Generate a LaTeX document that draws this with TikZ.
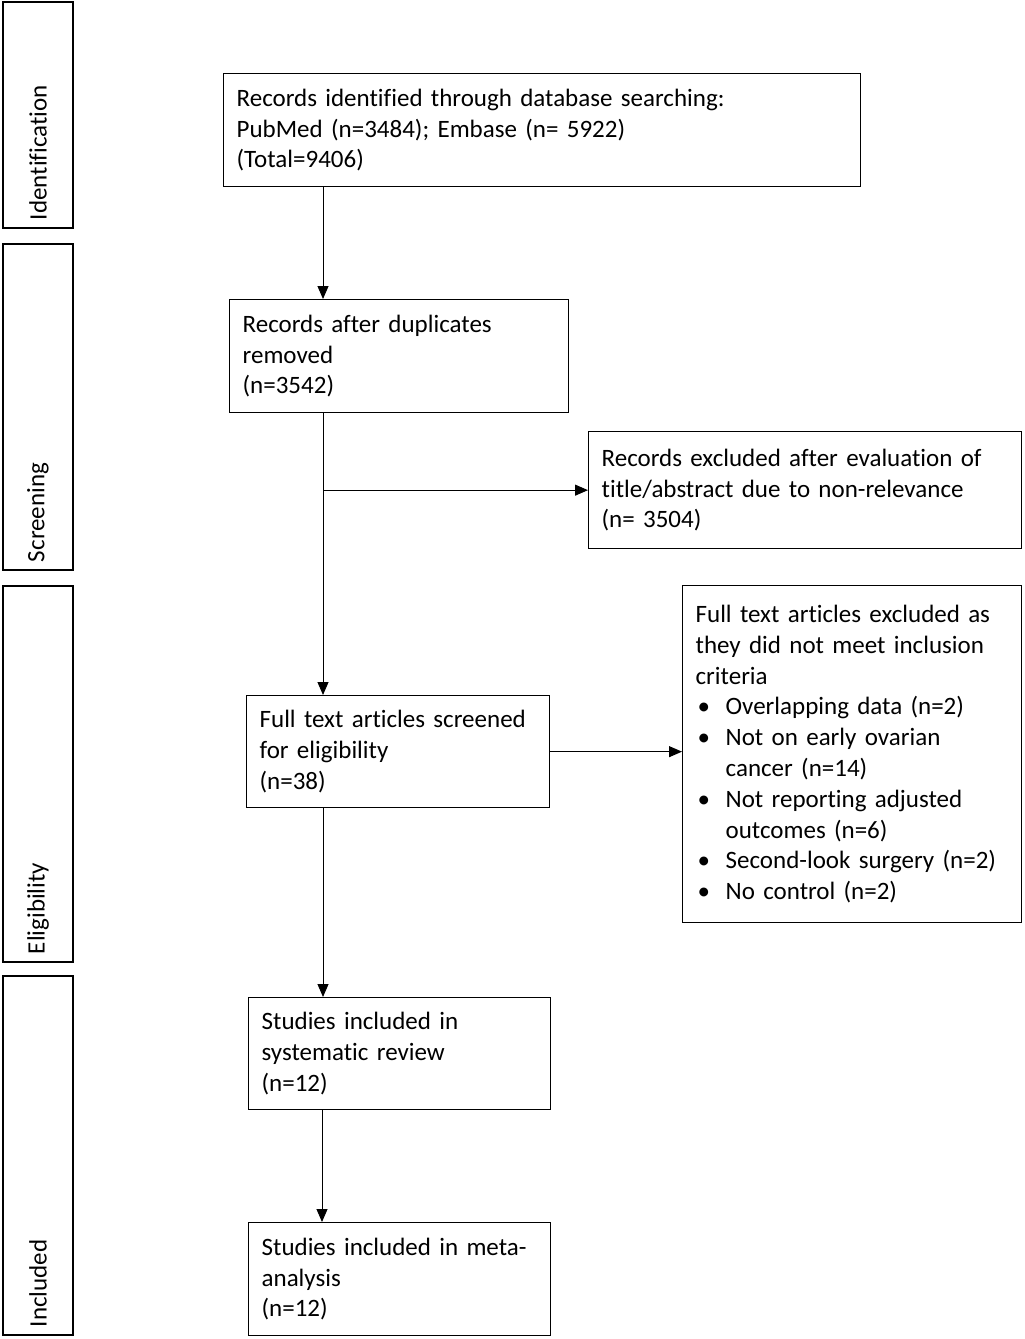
\documentclass[tikz,border=0pt]{standalone}
\usepackage{fontspec}
\setmainfont{Carlito}[Ligatures=CommonOff]
\usetikzlibrary{arrows.meta}
\newcommand{\bul}{\makebox[30pt][l]{\hspace{2pt}\textbullet}}
\newcommand{\hang}{\makebox[30pt][l]{}}
\begin{document}
\begin{tikzpicture}[x=1pt,y=-1pt,
  box/.style={draw, line width=1.3pt, inner xsep=13pt, inner ysep=4pt, align=left, anchor=north west,
    font=\fontsize{25}{30.8}\selectfont},
  phase/.style={draw, line width=1.3pt, inner xsep=8pt, inner ysep=0pt, align=left, rotate=90,
    minimum height=70pt, font=\fontsize{25}{30.8}\selectfont},
  arr/.style={line width=1pt, -{Triangle[length=13pt,width=11pt]}}]
\useasboundingbox (0,0) rectangle (1025,1339);
% phase bars
\node[phase, minimum width=226pt, text width=210pt] (pid) at (38,115) {Identification};
\node[phase, minimum width=326pt, text width=310pt] (psc) at (38,407) {Screening};
\node[phase, minimum width=376pt, text width=360pt] (pel) at (38,774) {Eligibility};
\node[phase, minimum width=359pt, text width=343pt] (pin) at (38,1155.5) {Included};
% boxes
\node[box, text width=611pt, minimum height=113pt] (b1) at (223,73)
  {Records identified through database searching:\\PubMed (n=3484); Embase (n= 5922)\\(Total=9406)};
\node[box, text width=313pt, minimum height=113pt] (b2) at (229,299)
  {Records after duplicates\\removed\\(n=3542)};
\node[box, text width=407pt, minimum height=117pt] (b3) at (588,431)
  {Records excluded after evaluation of\\title/abstract due to non-relevance\\(n= 3504)};
\node[box, text width=277pt, minimum height=112pt] (b4) at (246,695)
  {Full text articles screened\\for eligibility\\(n=38)};
\node[box, text width=313pt, minimum height=337pt] (b5) at (682,585)
  {Full text articles excluded as\\they did not meet inclusion\\criteria\\
   \bul Overlapping data (n=2)\\
   \bul Not on early ovarian\\
   \hang cancer (n=14)\\
   \bul Not reporting adjusted\\
   \hang outcomes (n=6)\\
   \bul Second-look surgery (n=2)\\
   \bul No control (n=2)};
\node[box, text width=276pt, minimum height=112pt] (b6) at (248,997)
  {Studies included in\\systematic review\\(n=12)};
\node[box, text width=276pt, minimum height=113pt] (b7) at (248,1222)
  {Studies included in meta-\\analysis\\(n=12)};
% connectors
\coordinate (trunk) at (323,0);
\coordinate (trunk2) at (322,0);
\draw[arr] (b1.south -| trunk) -- (b2.north -| trunk);
\draw[arr] (b2.south -| trunk) -- (b4.north -| trunk);
\draw[arr] (trunk |- b3.west) -- (b3.west);
\draw[arr] (b4.east) -- (b4.east -| b5.west);
\draw[arr] (b4.south -| trunk) -- (b6.north -| trunk);
\draw[arr] (b6.south -| trunk2) -- (b7.north -| trunk2);
\end{tikzpicture}
\end{document}
